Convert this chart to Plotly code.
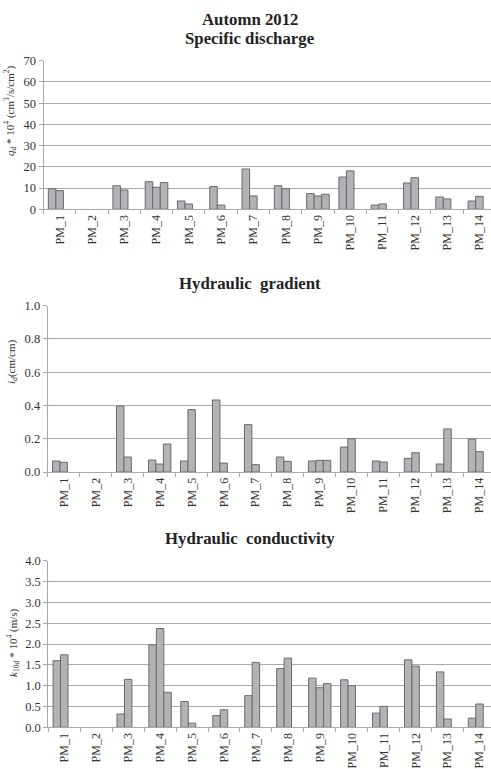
import plotly.graph_objects as go

categories = ["PM_1", "PM_2", "PM_3", "PM_4", "PM_5", "PM_6", "PM_7",
              "PM_8", "PM_9", "PM_10", "PM_11", "PM_12", "PM_13", "PM_14"]

# Specific discharge q_d * 10^4
q_s1 = [9.7, None, 11.1, 13.0, 3.9, 10.7, 19.0, 11.1, 7.4, 15.2, 2.0, 12.4, 5.8, 3.9]
q_s2 = [8.8, None, 9.1, 10.4, 2.5, 2.0, 6.3, 9.7, 6.3, 18.1, 2.5, 14.9, 4.9, 6.1]
q_s3 = [None, None, None, 12.6, None, None, None, None, 7.1, None, None, None, None, None]

# Hydraulic gradient i_d
i_s1 = [0.066, None, 0.397, 0.072, 0.066, 0.433, 0.285, 0.090, 0.066, 0.150, 0.066, 0.082, 0.048, 0.198]
i_s2 = [0.058, None, 0.090, 0.048, 0.375, 0.054, 0.044, 0.064, 0.070, 0.200, 0.060, 0.116, 0.259, 0.122]
i_s3 = [None, None, None, 0.168, None, None, None, None, 0.070, None, None, None, None, None]

# Hydraulic conductivity k10d * 10^4
k_s1 = [1.60, None, 0.32, 1.98, 0.62, 0.28, 0.76, 1.41, 1.18, 1.14, 0.34, 1.62, 1.33, 0.22]
k_s2 = [1.74, None, 1.15, 2.37, 0.10, 0.42, 1.56, 1.66, 0.95, 1.00, 0.50, 1.47, 0.20, 0.56]
k_s3 = [None, None, None, 0.84, None, None, None, None, 1.05, None, None, None, None, None]

W, H = 491, 769
FILL = "#b3b3b7"
EDGE = "#6a6a6a"
GRID = "#a8a8a8"
SERIF = "Liberation Serif, Times New Roman, serif"

fig = go.Figure()

panels = [
    ("", (q_s1, q_s2, q_s3)),
    ("2", (i_s1, i_s2, i_s3)),
    ("3", (k_s1, k_s2, k_s3)),
]
for suffix, series in panels:
    for s in series:
        fig.add_trace(go.Bar(
            x=categories, y=s, xaxis="x" + suffix, yaxis="y" + suffix,
            marker=dict(color=FILL, line=dict(color=EDGE, width=1)),
            showlegend=False, hoverinfo="skip",
        ))

def px_dom_y(top, bottom):
    return [1 - bottom / H, 1 - top / H]

xcommon = dict(
    type="category", categoryorder="array", categoryarray=categories,
    range=[-0.5, 13.36], tickson="boundaries", ticks="outside", ticklen=4,
    tickcolor=GRID, showline=True, linecolor=GRID, linewidth=1,
    showgrid=False, tickangle=-90, tickfont=dict(family=SERIF, size=12, color="#333"),
    fixedrange=True, automargin=False,
)
ycommon = dict(
    showline=True, linecolor=GRID, linewidth=1, showgrid=True, gridcolor=GRID,
    gridwidth=1, ticks="outside", ticklen=4, tickcolor=GRID, zeroline=False,
    tickfont=dict(family=SERIF, size=12.5, color="#333"), fixedrange=True,
    automargin=False,
)

fig.update_layout(
    width=W, height=H,
    margin=dict(l=0, r=0, t=0, b=0, autoexpand=False),
    paper_bgcolor="white", plot_bgcolor="white",
    barmode="group", bargap=0.3, bargroupgap=0,
    xaxis=dict(xcommon, domain=[43.5 / W, 1], anchor="y"),
    yaxis=dict(ycommon, domain=px_dom_y(60.7, 209.3), range=[0, 70], dtick=10,
               tickformat="d", anchor="x"),
    xaxis2=dict(xcommon, domain=[47.7 / W, 1], anchor="y2"),
    yaxis2=dict(ycommon, domain=px_dom_y(305.7, 472), range=[0, 1.0], dtick=0.2,
                tickformat=".1f", anchor="x2"),
    xaxis3=dict(xcommon, domain=[48.3 / W, 1], anchor="y3"),
    yaxis3=dict(ycommon, domain=px_dom_y(560.7, 727.3), range=[0, 4.0], dtick=0.5,
                tickformat=".1f", anchor="x3"),
)

def title(text, ypx):
    fig.add_annotation(x=250 / W, y=1 - ypx / H, xref="paper", yref="paper",
                       text=text, showarrow=False, xanchor="center", yanchor="middle",
                       font=dict(family=SERIF, size=16.8, color="#222"))

title("<b>Automn 2012</b>", 19)
title("<b>Specific discharge</b>", 38)
title("<b>Hydraulic  gradient</b>", 283)
title("<b>Hydraulic  conductivity</b>", 538)

def ytitle(text, xpx, ypx):
    fig.add_annotation(x=xpx / W, y=1 - ypx / H, xref="paper", yref="paper",
                       text=text, showarrow=False, textangle=-90,
                       xanchor="center", yanchor="middle",
                       font=dict(family=SERIF, size=11, color="#333"))

ytitle("<i>q<sub>d</sub></i> * 10<sup>4</sup> (cm<sup>3</sup>/s/cm<sup>2</sup>)", 10, 111)
ytitle("<i>i<sub>d</sub></i>(cm/cm)", 12, 362)
ytitle("<i>k</i><sub>10<i>d</i></sub> * 10<sup>4</sup> (m/s)", 13, 643)

fig.write_html(
    "out.html",
    config={"displayModeBar": False, "staticPlot": True},
    post_script="document.body.style.margin='0';document.body.style.padding='0';"
                "document.documentElement.style.overflow='hidden';",
)
